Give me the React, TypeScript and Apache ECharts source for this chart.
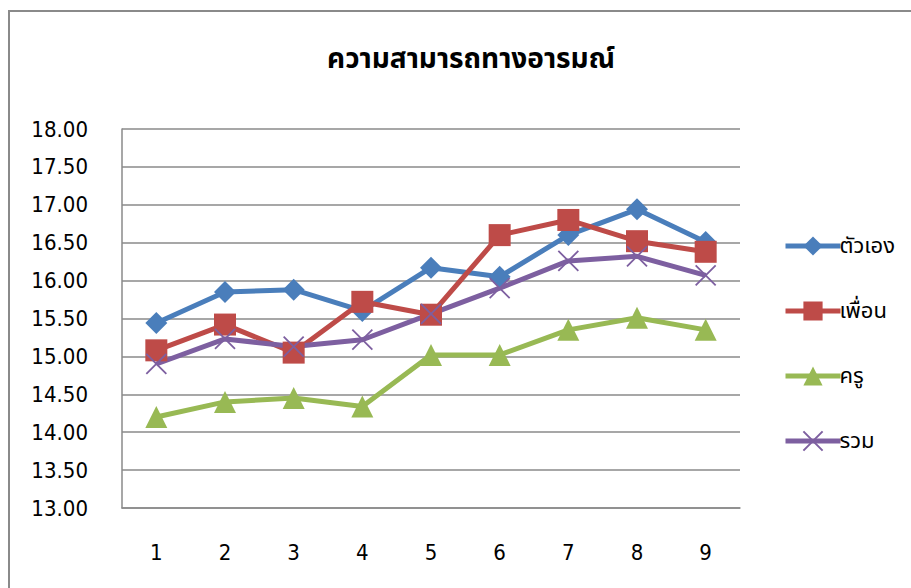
import React, { useEffect, useRef } from "react";
import * as echarts from "echarts";

const categories = ["1", "2", "3", "4", "5", "6", "7", "8", "9"];
const selfValues = [15.44, 15.85, 15.88, 15.6, 16.17, 16.05, 16.6, 16.94, 16.51];
const friendValues = [15.08, 15.42, 15.05, 15.72, 15.55, 16.6, 16.8, 16.52, 16.38];
const teacherValues = [14.2, 14.4, 14.45, 14.34, 15.02, 15.02, 15.35, 15.51, 15.35];
const totalValues = [14.9, 15.23, 15.13, 15.22, 15.56, 15.9, 16.26, 16.32, 16.07];
const seriesNames = ["ตัวเอง", "เพื่อน", "ครู", "รวม"];
const title = "ความสามารถทางอารมณ์";

const numFont = "'Liberation Sans Narrow', 'DejaVu Sans Condensed', 'Noto Sans', sans-serif";
const thaiFont = "'Noto Sans Thai', 'Noto Sans', 'DejaVu Sans', sans-serif";

export default function App() {
  const ref = useRef<HTMLDivElement>(null);
  useEffect(() => {
    if (!ref.current) return;
    const chart = echarts.init(ref.current, null, { renderer: "svg" });
    const mk = (name: string, data: number[], color: string, symbol: string, size: number, extra: any = {}) => ({
      name,
      type: "line",
      data,
      symbol,
      symbolSize: size,
      lineStyle: { color, width: 5 },
      itemStyle: { color, ...extra },
      color,
      z: 3,
    });
    chart.setOption({
      animation: false,
      backgroundColor: "#ffffff",
      title: {
        text: title,
        left: 466,
        top: 40,
        textAlign: "center",
        textStyle: { fontFamily: thaiFont, fontSize: 28, fontWeight: "bold", color: "#000" },
      },
      graphic: [
        {
          type: "rect",
          shape: { x: 9, y: 11, width: 1000, height: 700 },
          style: { fill: "none", stroke: "#8a8a8a", lineWidth: 2 },
          silent: true,
        },
      ],
      grid: { left: 122, right: 171, top: 129, bottom: 80 },
      legend: {
        orient: "vertical",
        left: 778,
        top: 230,
        itemWidth: 55,
        itemHeight: 24,
        itemGap: 43,
        data: seriesNames,
        lineStyle: { width: 5 },
        textStyle: { fontFamily: thaiFont, fontSize: 22, color: "#000", padding: [0, 0, 0, -6] },
      },
      xAxis: {
        type: "category",
        data: categories,
        boundaryGap: true,
        axisLine: { show: true, lineStyle: { color: "#8a8a8a", width: 1.5 } },
        axisTick: { show: false },
        axisLabel: { fontFamily: numFont, fontSize: 22, color: "#000", margin: 33 },
      },
      yAxis: {
        type: "value",
        min: 13,
        max: 18,
        interval: 0.5,
        axisLine: { show: true, lineStyle: { color: "#8a8a8a", width: 1.5 } },
        axisTick: { show: false },
        splitLine: { lineStyle: { color: "#8a8a8a", width: 1.5 } },
        axisLabel: {
          fontFamily: numFont,
          fontSize: 22,
          color: "#000",
          margin: 34,
          formatter: (v: number) => v.toFixed(2),
        },
      },
      series: [
        mk(seriesNames[0], selfValues, "#4a7ebb", "diamond", 22),
        mk(seriesNames[1], friendValues, "#be4b48", "rect", 22),
        mk(seriesNames[2], teacherValues, "#98b954", "triangle", 22),
        mk(seriesNames[3], totalValues, "#7d5fa0", "path://M0,0L10,10M10,0L0,10", 20, {
          borderColor: "#7d5fa0",
          borderWidth: 1.8,
        }),
      ],
    });
    return () => chart.dispose();
  }, []);
  return (
    <div
      ref={ref}
      style={{ position: "fixed", left: 0, top: 0, width: 911, height: 588 }}
    />
  );
}
